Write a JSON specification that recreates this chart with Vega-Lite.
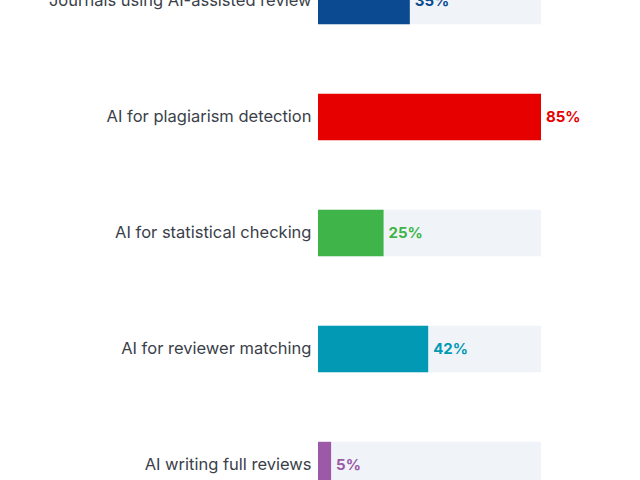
{
  "$schema": "https://vega.github.io/schema/vega-lite/v6.json",
  "description": "AI use in peer review, horizontal bars on light tracks.",
  "autosize": "none",
  "padding": {"left": 318, "top": -57, "right": 99, "bottom": 0},
  "width": 223,
  "height": 580,
  "background": "white",
  "data": {
    "values": [
      {"item": "Journals using AI-assisted review", "pct": 35},
      {"item": "AI for plagiarism detection", "pct": 85},
      {"item": "AI for statistical checking", "pct": 25},
      {"item": "AI for reviewer matching", "pct": 42},
      {"item": "AI writing full reviews", "pct": 5}
    ]
  },
  "encoding": {
    "y": {
      "field": "item",
      "type": "nominal",
      "sort": null,
      "title": null,
      "scale": {"paddingInner": 0.6, "paddingOuter": 0.3},
      "axis": {
        "domain": false,
        "ticks": false,
        "labelPadding": 7,
        "labelFontSize": 16.5,
        "labelFont": "Inter",
        "labelColor": "#3b3f4a",
        "labelLimit": 400
      }
    }
  },
  "layer": [
    {
      "mark": {"type": "bar", "color": "#f0f4f8"},
      "encoding": {
        "x": {"datum": 85, "type": "quantitative", "scale": {"domain": [0, 85], "nice": false}, "axis": null}
      }
    },
    {
      "mark": {"type": "bar"},
      "encoding": {
        "x": {"field": "pct", "type": "quantitative"},
        "color": {
          "field": "item",
          "type": "nominal",
          "legend": null,
          "scale": {
            "domain": ["Journals using AI-assisted review", "AI for plagiarism detection", "AI for statistical checking", "AI for reviewer matching", "AI writing full reviews"],
            "range": ["#0b4a91", "#e60000", "#3fb549", "#0199b4", "#9b59a8"]
          }
        }
      }
    },
    {
      "mark": {"type": "text", "align": "left", "dx": 5, "fontSize": 15, "fontWeight": "bold", "font": "Inter"},
      "encoding": {
        "x": {"field": "pct", "type": "quantitative"},
        "text": {"field": "label", "type": "nominal"},
        "color": {"field": "item", "type": "nominal", "legend": null}
      },
      "transform": [{"calculate": "datum.pct + '%'", "as": "label"}]
    }
  ],
  "config": {
    "view": {"stroke": null}
  }
}
